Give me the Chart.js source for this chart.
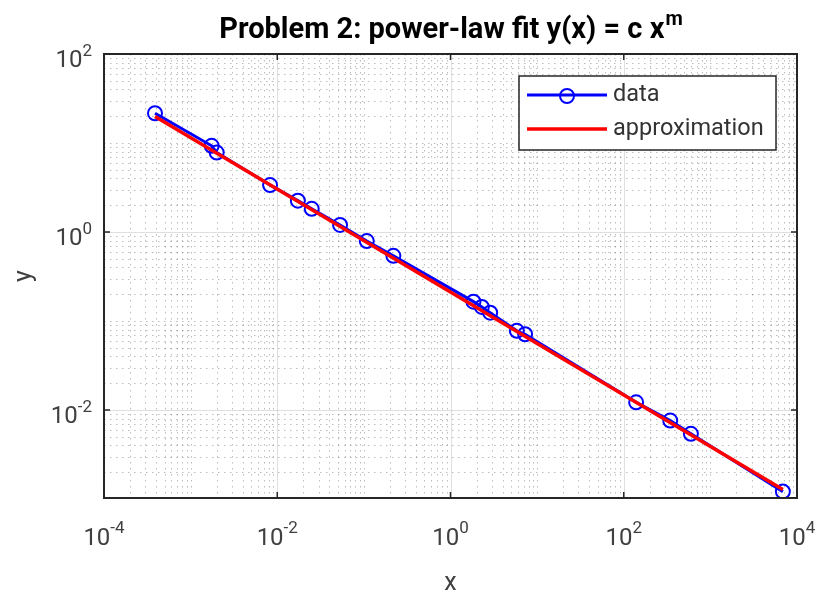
<!DOCTYPE html>
<html>
<head>
<meta charset="utf-8">
<script src="https://cdn.jsdelivr.net/npm/chart.js@4"></script>
<style>
  body { margin: 0; background: #fff; }
  canvas { display: block; }
</style>
</head>
<body>
<canvas id="myChart" width="822" height="592"></canvas>
<script>
// measured data points
const dataX = [3.88e-4, 1.75e-3, 2.0e-3, 8.26e-3, 0.0173, 0.025, 0.0531, 0.108, 0.219,
               1.84, 2.30, 2.87, 5.83, 7.27, 139, 344, 596, 6870];
const dataY = [21.6, 9.3, 7.8, 3.37, 2.25, 1.82, 1.2, 0.79, 0.54,
               0.165, 0.144, 0.124, 0.0775, 0.071, 0.0122, 0.0076, 0.0054, 0.00121];

// fitted line, end points
const approxX = [3.88e-4, 6870];
const approxY = [19.8, 1.28e-3];

// tick labels (powers of ten)
const xTickExps = [-4, -2, 0, 2, 4];
const yTickExps = [-2, 0, 2];

const xMin = 1e-4, xMax = 1e4;
const yMin = 1.026e-3, yMax = 100;

const fontFam = 'Roboto, "Liberation Sans", sans-serif';
const axisColor = '#262626';

function drawPow(ctx, exp, x, y, align, supRise) {
    ctx.font = '24px ' + fontFam;
    const wb = ctx.measureText('10').width;
    ctx.font = '17px ' + fontFam;
    const we = ctx.measureText(String(exp)).width;
    const total = wb + we;
    let start = x - total / 2;
    if (align === 'right') start = x - total;
    ctx.textAlign = 'left';
    ctx.textBaseline = 'alphabetic';
    ctx.font = '24px ' + fontFam;
    ctx.fillText('10', start, y);
    ctx.font = '17px ' + fontFam;
    ctx.fillText(String(exp), start + wb, y - supRise);
}

const matlabLook = {
    id: 'matlabLook',
    beforeDatasetsDraw(chart) {
        const ctx = chart.ctx;
        const a = chart.chartArea;
        const xs = chart.scales.x, ys = chart.scales.y;
        ctx.save();
        ctx.beginPath();
        ctx.rect(a.left, a.top, a.right - a.left, a.bottom - a.top);
        ctx.clip();

        // minor grid (dotted)
        ctx.strokeStyle = 'rgba(38,38,38,0.3)';
        ctx.lineWidth = 1;
        ctx.setLineDash([1.5, 4.5]);
        for (let e = -4; e <= 3; e++) {
            for (let m = 1; m <= 9; m++) {
                if (m === 1 && e % 2 === 0) continue;
                const px = Math.round(xs.getPixelForValue(m * Math.pow(10, e))) + 0.5;
                ctx.beginPath();
                ctx.moveTo(px, a.top);
                ctx.lineTo(px, a.bottom);
                ctx.stroke();
            }
        }
        for (let e = -3; e <= 1; e++) {
            for (let m = 1; m <= 9; m++) {
                const v = m * Math.pow(10, e);
                if (v < yMin || v > yMax) continue;
                if (m === 1 && e % 2 === 0) continue;
                const py = Math.round(ys.getPixelForValue(v)) + 0.5;
                ctx.beginPath();
                ctx.moveTo(a.left, py);
                ctx.lineTo(a.right, py);
                ctx.stroke();
            }
        }

        // major grid (solid)
        ctx.setLineDash([]);
        ctx.strokeStyle = 'rgba(38,38,38,0.15)';
        xTickExps.forEach(e => {
            const px = Math.round(xs.getPixelForValue(Math.pow(10, e))) + 0.5;
            ctx.beginPath();
            ctx.moveTo(px, a.top);
            ctx.lineTo(px, a.bottom);
            ctx.stroke();
        });
        yTickExps.forEach(e => {
            const py = Math.round(ys.getPixelForValue(Math.pow(10, e))) + 0.5;
            ctx.beginPath();
            ctx.moveTo(a.left, py);
            ctx.lineTo(a.right, py);
            ctx.stroke();
        });
        ctx.restore();
    },
    afterDatasetsDraw(chart) {
        const ctx = chart.ctx;
        const a = chart.chartArea;
        const xs = chart.scales.x, ys = chart.scales.y;
        ctx.save();

        // box and tick marks
        ctx.strokeStyle = axisColor;
        ctx.lineWidth = 2;
        ctx.strokeRect(a.left, a.top, a.right - a.left, a.bottom - a.top);
        ctx.lineWidth = 1.5;
        xTickExps.forEach(e => {
            const px = xs.getPixelForValue(Math.pow(10, e));
            ctx.beginPath();
            ctx.moveTo(px, a.bottom);
            ctx.lineTo(px, a.bottom - 6);
            ctx.moveTo(px, a.top);
            ctx.lineTo(px, a.top + 6);
            ctx.stroke();
        });
        yTickExps.forEach(e => {
            const py = ys.getPixelForValue(Math.pow(10, e));
            ctx.beginPath();
            ctx.moveTo(a.left, py);
            ctx.lineTo(a.left + 6, py);
            ctx.moveTo(a.right, py);
            ctx.lineTo(a.right - 6, py);
            ctx.stroke();
        });

        // tick labels
        ctx.fillStyle = '#404040';
        xTickExps.forEach(e => {
            drawPow(ctx, e, xs.getPixelForValue(Math.pow(10, e)), 545, 'center', 12);
        });
        yTickExps.forEach(e => {
            drawPow(ctx, e, 92, ys.getPixelForValue(Math.pow(10, e)) + 13, 'right', 11);
        });

        // axis labels
        ctx.font = '25px ' + fontFam;
        ctx.textAlign = 'center';
        ctx.textBaseline = 'alphabetic';
        ctx.fillText('x', (a.left + a.right) / 2, 590);
        ctx.save();
        ctx.translate(31, (a.top + a.bottom) / 2);
        ctx.rotate(-Math.PI / 2);
        ctx.fillText('y', 0, 0);
        ctx.restore();

        // title
        const t1 = 'Problem 2: power-law fit y(x) = c x';
        ctx.fillStyle = '#000';
        ctx.font = 'bold 29px ' + fontFam;
        const w1 = ctx.measureText(t1).width;
        ctx.font = 'bold 20px ' + fontFam;
        const w2 = ctx.measureText('m').width;
        const tx = (a.left + a.right) / 2 - (w1 + w2) / 2;
        ctx.textAlign = 'left';
        ctx.font = 'bold 29px ' + fontFam;
        ctx.fillText(t1, tx, 38);
        ctx.font = 'bold 20px ' + fontFam;
        ctx.fillText('m', tx + w1 + 1, 25);

        // legend
        ctx.fillStyle = '#fff';
        ctx.fillRect(519, 76, 257, 74);
        ctx.strokeStyle = axisColor;
        ctx.lineWidth = 1.5;
        ctx.strokeRect(519, 76, 257, 74);
        const ds = chart.data.datasets;
        ctx.lineWidth = 3;
        ctx.strokeStyle = ds[0].borderColor;
        ctx.beginPath();
        ctx.moveTo(527, 95);
        ctx.lineTo(607, 95);
        ctx.stroke();
        ctx.lineWidth = 2;
        ctx.beginPath();
        ctx.arc(567, 96, 7, 0, Math.PI * 2);
        ctx.stroke();
        ctx.lineWidth = 3.5;
        ctx.strokeStyle = ds[1].borderColor;
        ctx.beginPath();
        ctx.moveTo(527, 129);
        ctx.lineTo(607, 129);
        ctx.stroke();
        ctx.fillStyle = '#333';
        ctx.font = '23.5px ' + fontFam;
        ctx.textBaseline = 'middle';
        ctx.fillText(ds[0].label, 613, 95);
        ctx.fillText(ds[1].label, 613, 129);
        ctx.restore();
    }
};

const ctx = document.getElementById('myChart');

new Chart(ctx, {
    type: 'scatter',
    data: {
        datasets: [{
            label: 'data',
            data: dataX.map((x, i) => ({ x: x, y: dataY[i] })),
            showLine: true,
            borderColor: '#0000ff',
            borderWidth: 3,
            pointRadius: 7,
            pointBorderWidth: 2,
            pointBorderColor: '#0000ff',
            pointBackgroundColor: 'rgba(0,0,0,0)',
            order: 1
        }, {
            label: 'approximation',
            data: approxX.map((x, i) => ({ x: x, y: approxY[i] })),
            showLine: true,
            borderColor: '#ff0000',
            borderWidth: 3.5,
            pointRadius: 0,
            order: 0
        }]
    },
    options: {
        responsive: false,
        animation: false,
        layout: { padding: { left: 104, right: 25, top: 54, bottom: 94 } },
        plugins: { legend: { display: false }, tooltip: { enabled: false } },
        scales: {
            x: { type: 'logarithmic', min: xMin, max: xMax, display: false },
            y: { type: 'logarithmic', min: yMin, max: yMax, display: false }
        }
    },
    plugins: [matlabLook]
});
</script>
</body>
</html>
